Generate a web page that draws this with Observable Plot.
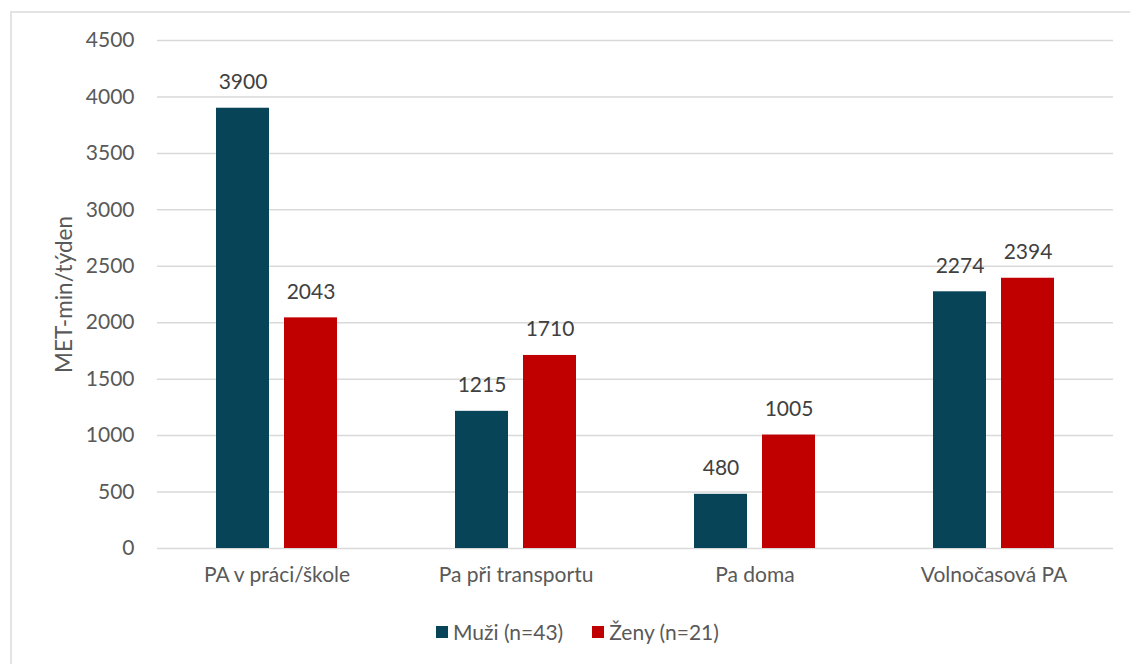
<!DOCTYPE html>
<html>
<head>
<meta charset="utf-8">
<script src="https://cdn.jsdelivr.net/npm/d3@7"></script>
<script src="https://cdn.jsdelivr.net/npm/@observablehq/plot@0.6"></script>
<style>
  html, body { margin: 0; padding: 0; background: #fff; overflow: hidden; }
  body { width: 1130px; height: 664px; position: relative; font-family: Lato, sans-serif; }
  #frame { position: absolute; left: 10px; top: 11px; width: 1140px; height: 700px; border: 2px solid #e3e3e3; box-sizing: border-box; }
  #chart { position: absolute; left: 0; top: 0; }
  #legend { position: absolute; left: 436px; top: 619px; display: flex; align-items: center; font-size: 21px; color: #595959; }
  .item { display: flex; align-items: center; margin-right: 29px; }
  .sw { width: 12px; height: 12px; margin-right: 5px; }
</style>
</head>
<body>
<div id="frame"></div>
<div id="chart"></div>
<div id="legend"></div>
<script>
const categories = ["PA v práci/škole", "Pa při transportu", "Pa doma", "Volnočasová PA"];
const seriesNames = ["Muži (n=43)", "Ženy (n=21)"];
const muzi = [3900, 1215, 480, 2274];
const zeny = [2043, 1710, 1005, 2394];
const yTicks = [0, 500, 1000, 1500, 2000, 2500, 3000, 3500, 4000, 4500];
const colors = ["#074457", "#c00000"];
const yLabel = "MET-min/týden";

const data = [];
categories.forEach((c, i) => {
  data.push({category: c, series: seriesNames[0], value: muzi[i]});
  data.push({category: c, series: seriesNames[1], value: zeny[i]});
});

const chart = Plot.plot({
  width: 1130,
  height: 600,
  marginTop: 40,
  marginBottom: 52,
  marginLeft: 155,
  marginRight: 16,
  style: {fontFamily: "Lato, sans-serif", fontSize: "21px", color: "#595959", background: "transparent"},
  fx: {domain: categories, padding: 0, label: null, axis: null},
  x: {domain: seriesNames, paddingInner: 0.217, paddingOuter: 0.848, axis: null},
  y: {domain: [0, 4500], axis: null},
  color: {domain: seriesNames, range: colors},
  marks: [
    Plot.ruleY(yTicks, {stroke: "#d9d9d9", strokeWidth: 1.5}),
    Plot.barY(data, {fx: "category", x: "series", y: "value", fill: "series"}),
    Plot.text(data, {fx: "category", x: "series", y: "value", text: d => String(d.value), dy: -26, lineAnchor: "middle", fill: "#404040", fontSize: 21}),
    Plot.axisY({ticks: yTicks, tickFormat: d => String(d), tickSize: 0, tickPadding: 23, fontSize: 21, fill: "#595959", label: null}),
    Plot.text([yLabel], {facet: "super", frameAnchor: "left", text: d => d, rotate: -90, dx: -93, textAnchor: "middle", lineAnchor: "middle", fontSize: 22.5, fill: "#595959"}),
    Plot.axisFx({anchor: "bottom", tickSize: 0, tickPadding: 19, fontSize: 21, fill: "#595959", label: null})
  ]
});
document.getElementById("chart").appendChild(chart);

const legend = document.getElementById("legend");
seriesNames.forEach((s, i) => {
  const item = document.createElement("div");
  item.className = "item";
  const sw = document.createElement("div");
  sw.className = "sw";
  sw.style.background = colors[i];
  const t = document.createElement("span");
  t.textContent = s;
  item.appendChild(sw);
  item.appendChild(t);
  legend.appendChild(item);
});
</script>
</body>
</html>
